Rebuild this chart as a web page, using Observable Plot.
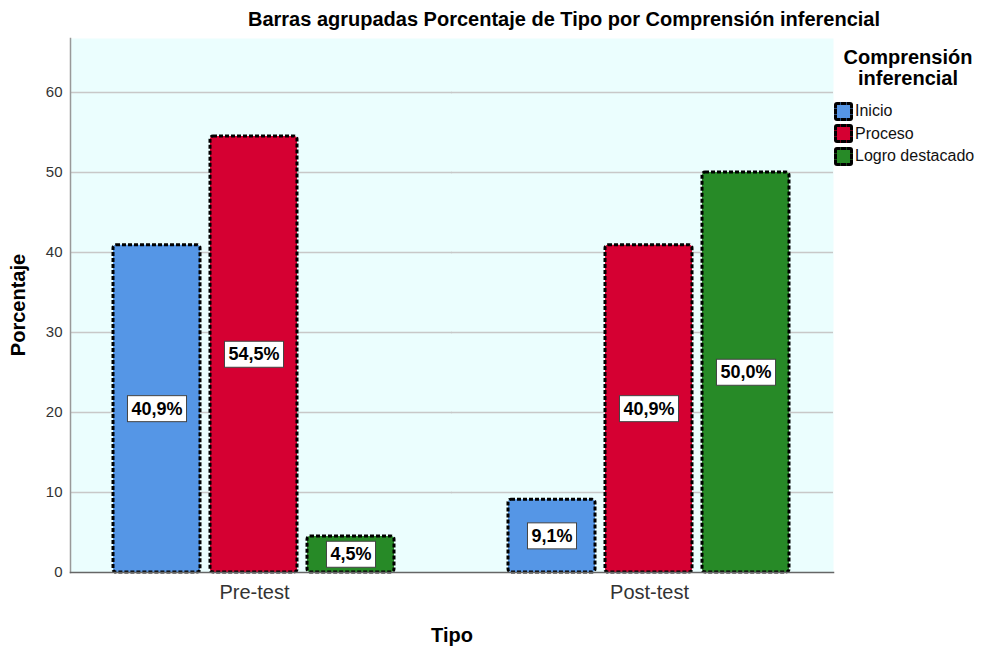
<!DOCTYPE html>
<html><head><meta charset="utf-8">
<script src="https://cdn.jsdelivr.net/npm/d3@7"></script>
<script src="https://cdn.jsdelivr.net/npm/@observablehq/plot@0.6"></script>
<style>
body{margin:0;background:#fff;font-family:"Liberation Sans",Arial,sans-serif;}
#wrap{position:relative;width:986px;height:648px;overflow:hidden;}
#wrap svg{position:absolute;left:0;top:0;}
.t{position:absolute;white-space:nowrap;color:#000;}
#title{left:140px;width:848px;top:8px;text-align:center;font-weight:bold;font-size:20px;}
#ylab{left:18px;top:305px;transform:translate(-50%,-50%) rotate(-90deg);font-weight:bold;font-size:20px;}
#xlab{left:452px;top:635px;transform:translate(-50%,-50%);font-weight:bold;font-size:20px;}
#legtitle{left:838px;width:140px;top:47px;text-align:center;font-weight:bold;font-size:20px;line-height:21px;}
.item{position:absolute;left:834px;height:20px;display:flex;align-items:center;font-size:16px;color:#111;}
.sw{width:13px;height:13px;border:3px dashed #000;border-radius:3px;margin-right:2px;}
</style></head>
<body><div id="wrap"></div>
<script>
const tipos = ["Pre-test", "Post-test"];
const niveles = ["Inicio", "Proceso", "Logro destacado"];
const colores = ["#5596e6", "#d50032", "#278a27"];
const preTest = [40.9, 54.5, 4.5];
const postTest = [9.1, 40.9, 50.0];
const yTicks = [0, 10, 20, 30, 40, 50, 60];

const data = [];
tipos.forEach((t, ti) => {
  const vals = ti === 0 ? preTest : postTest;
  niveles.forEach((n, ni) => data.push({tipo: t, nivel: n, valor: vals[ni],
    etiqueta: vals[ni].toFixed(1).replace(".", ",") + "%"}));
});
const grid = yTicks.filter(d => d > 0);

const chart = Plot.plot({
  width: 986, height: 648,
  marginLeft: 70, marginRight: 153, marginTop: 38, marginBottom: 76,
  style: {fontFamily: '"Liberation Sans", Arial, sans-serif', background: "transparent"},
  fx: {domain: tipos, paddingInner: 0.0684, paddingOuter: 0, label: null},
  x: {domain: niveles, paddingInner: 0.102, paddingOuter: 0.43, axis: null},
  y: {domain: [0, 66.75]},
  color: {domain: niveles, range: colores},
  marks: [
    Plot.frame({facet: "super", fill: "#ebfefe", stroke: null}),
    Plot.ruleY(grid, {y: d => d, fx: () => tipos[0], insetRight: -14, stroke: "#c8c8c8", strokeWidth: 1.5}),
    Plot.ruleY(grid, {y: d => d, fx: () => tipos[1], insetLeft: -14, stroke: "#c8c8c8", strokeWidth: 1.5}),
    Plot.frame({facet: "super", anchor: "left", stroke: "#999", strokeWidth: 1.5}),
    Plot.axisY({ticks: yTicks, tickSize: 0, tickPadding: 8, fontSize: 15, fill: "#333", label: null}),
    Plot.axisFx({anchor: "bottom", tickSize: 0, tickPadding: 12, fontSize: 20, fill: "#333", label: null}),
    Plot.barY(data, {fx: "tipo", x: "nivel", y: "valor", fill: "nivel",
      stroke: "#000", strokeWidth: 3, strokeDasharray: "4 2", rx: 3}),
    Plot.frame({facet: "super", anchor: "bottom", stroke: "#666", strokeWidth: 1.5}),
    Plot.text(data, {fx: "tipo", x: "nivel", y: d => d.valor / 2, text: "etiqueta",
      fontSize: 18, fontWeight: "bold", fill: "#000", className: "vlabels"})
  ]
});

const wrap = document.getElementById("wrap");
wrap.append(chart);

// white boxes behind value labels
chart.querySelectorAll(".vlabels text").forEach(t => {
  const b = t.getBBox();
  const r = document.createElementNS("http://www.w3.org/2000/svg", "rect");
  r.setAttribute("x", b.x - 4);
  r.setAttribute("y", b.y - 3);
  r.setAttribute("width", b.width + 8);
  r.setAttribute("height", b.height + 6);
  r.setAttribute("fill", "#fff");
  r.setAttribute("stroke", "#444");
  r.setAttribute("stroke-width", 1);
  const tr = t.getAttribute("transform");
  if (tr) r.setAttribute("transform", tr);
  t.parentNode.insertBefore(r, t);
});

function addText(id, cls, html) {
  const d = document.createElement("div");
  d.id = id; d.className = cls; d.innerHTML = html; wrap.append(d);
}
addText("title", "t", "Barras agrupadas Porcentaje de Tipo por Comprensión inferencial");
addText("ylab", "t", "Porcentaje");
addText("xlab", "t", "Tipo");
addText("legtitle", "t", "Comprensión<br>inferencial");
niveles.forEach((n, i) => {
  const it = document.createElement("div");
  it.className = "item";
  it.style.top = (101 + i * 22.5) + "px";
  const sw = document.createElement("div");
  sw.className = "sw"; sw.style.background = colores[i];
  const tx = document.createElement("span"); tx.textContent = n;
  it.append(sw, tx);
  wrap.append(it);
});
</script></body></html>
